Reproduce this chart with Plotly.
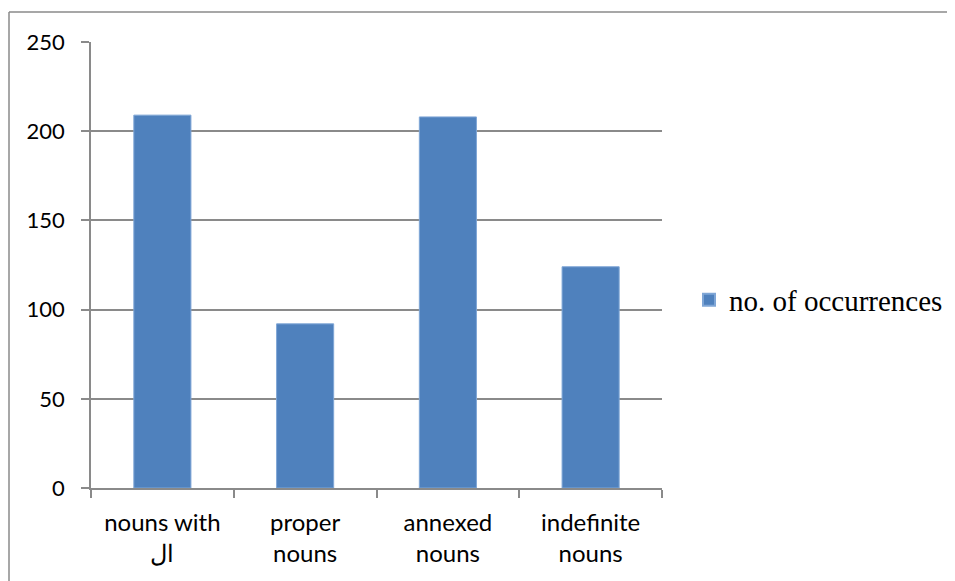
import plotly.graph_objects as go

categories = ["nouns with<br>ال", "proper<br>nouns", "annexed<br>nouns", "indefinite<br>nouns"]
values = [209, 92, 208, 124]
series_name = "no. of occurrences"
y_ticks = [0, 50, 100, 150, 200, 250]

# page body has an 8px margin; compensate so the screen positions match
OFF = 8
W, H = 955, 581
L, T = 91 - OFF, 42 - OFF
pw, ph = 571, 446
R = W - L - pw
B = H - T - ph

def px_x(x):
    return (x - OFF - L) / pw

def px_y(y):
    return (T + ph - (y - OFF)) / ph

fig = go.Figure()
fig.add_trace(go.Bar(
    x=categories, y=values, name=series_name,
    marker=dict(color="#4F81BD", line=dict(color="#7FA6D6", width=1)),
    showlegend=True,
))

grid = "#8a8a8a"
fig.update_layout(
    width=W, height=H,
    margin=dict(l=L, r=R, t=T, b=B, pad=0),
    paper_bgcolor="white", plot_bgcolor="white",
    bargap=0.6,
    font=dict(family="Lato, 'Noto Sans', sans-serif", size=22, color="black"),
    xaxis=dict(
        type="category", showline=True, linecolor=grid, linewidth=1.5,
        ticks="outside", tickson="boundaries", ticklen=8, tickcolor=grid, tickwidth=1.5,
        showgrid=False, tickfont=dict(size=24), ticklabelstandoff=12,
    ),
    yaxis=dict(
        range=[0, 250], tickvals=y_ticks, showline=True, linecolor=grid, linewidth=1.5,
        ticks="outside", ticklen=8, tickcolor=grid, tickwidth=1.5,
        showgrid=True, gridcolor=grid, gridwidth=1.5, zeroline=False,
        tickfont=dict(size=22), ticklabelstandoff=12,
    ),
    legend=dict(
        x=px_x(689), y=px_y(300), xanchor="left", yanchor="middle",
        font=dict(family="'Liberation Serif', 'Times New Roman', serif", size=29),
        bgcolor="rgba(0,0,0,0)", itemsizing="constant",
    ),
    shapes=[
        dict(type="line", xref="paper", yref="paper",
             x0=px_x(9), x1=px_x(W + 40), y0=px_y(12), y1=px_y(12),
             line=dict(color="#8a8a8a", width=1.5)),
        dict(type="line", xref="paper", yref="paper",
             x0=px_x(9), x1=px_x(9), y0=px_y(12), y1=px_y(H + 40),
             line=dict(color="#8a8a8a", width=1.5)),
    ],
)

fig.write_html("out.html")
